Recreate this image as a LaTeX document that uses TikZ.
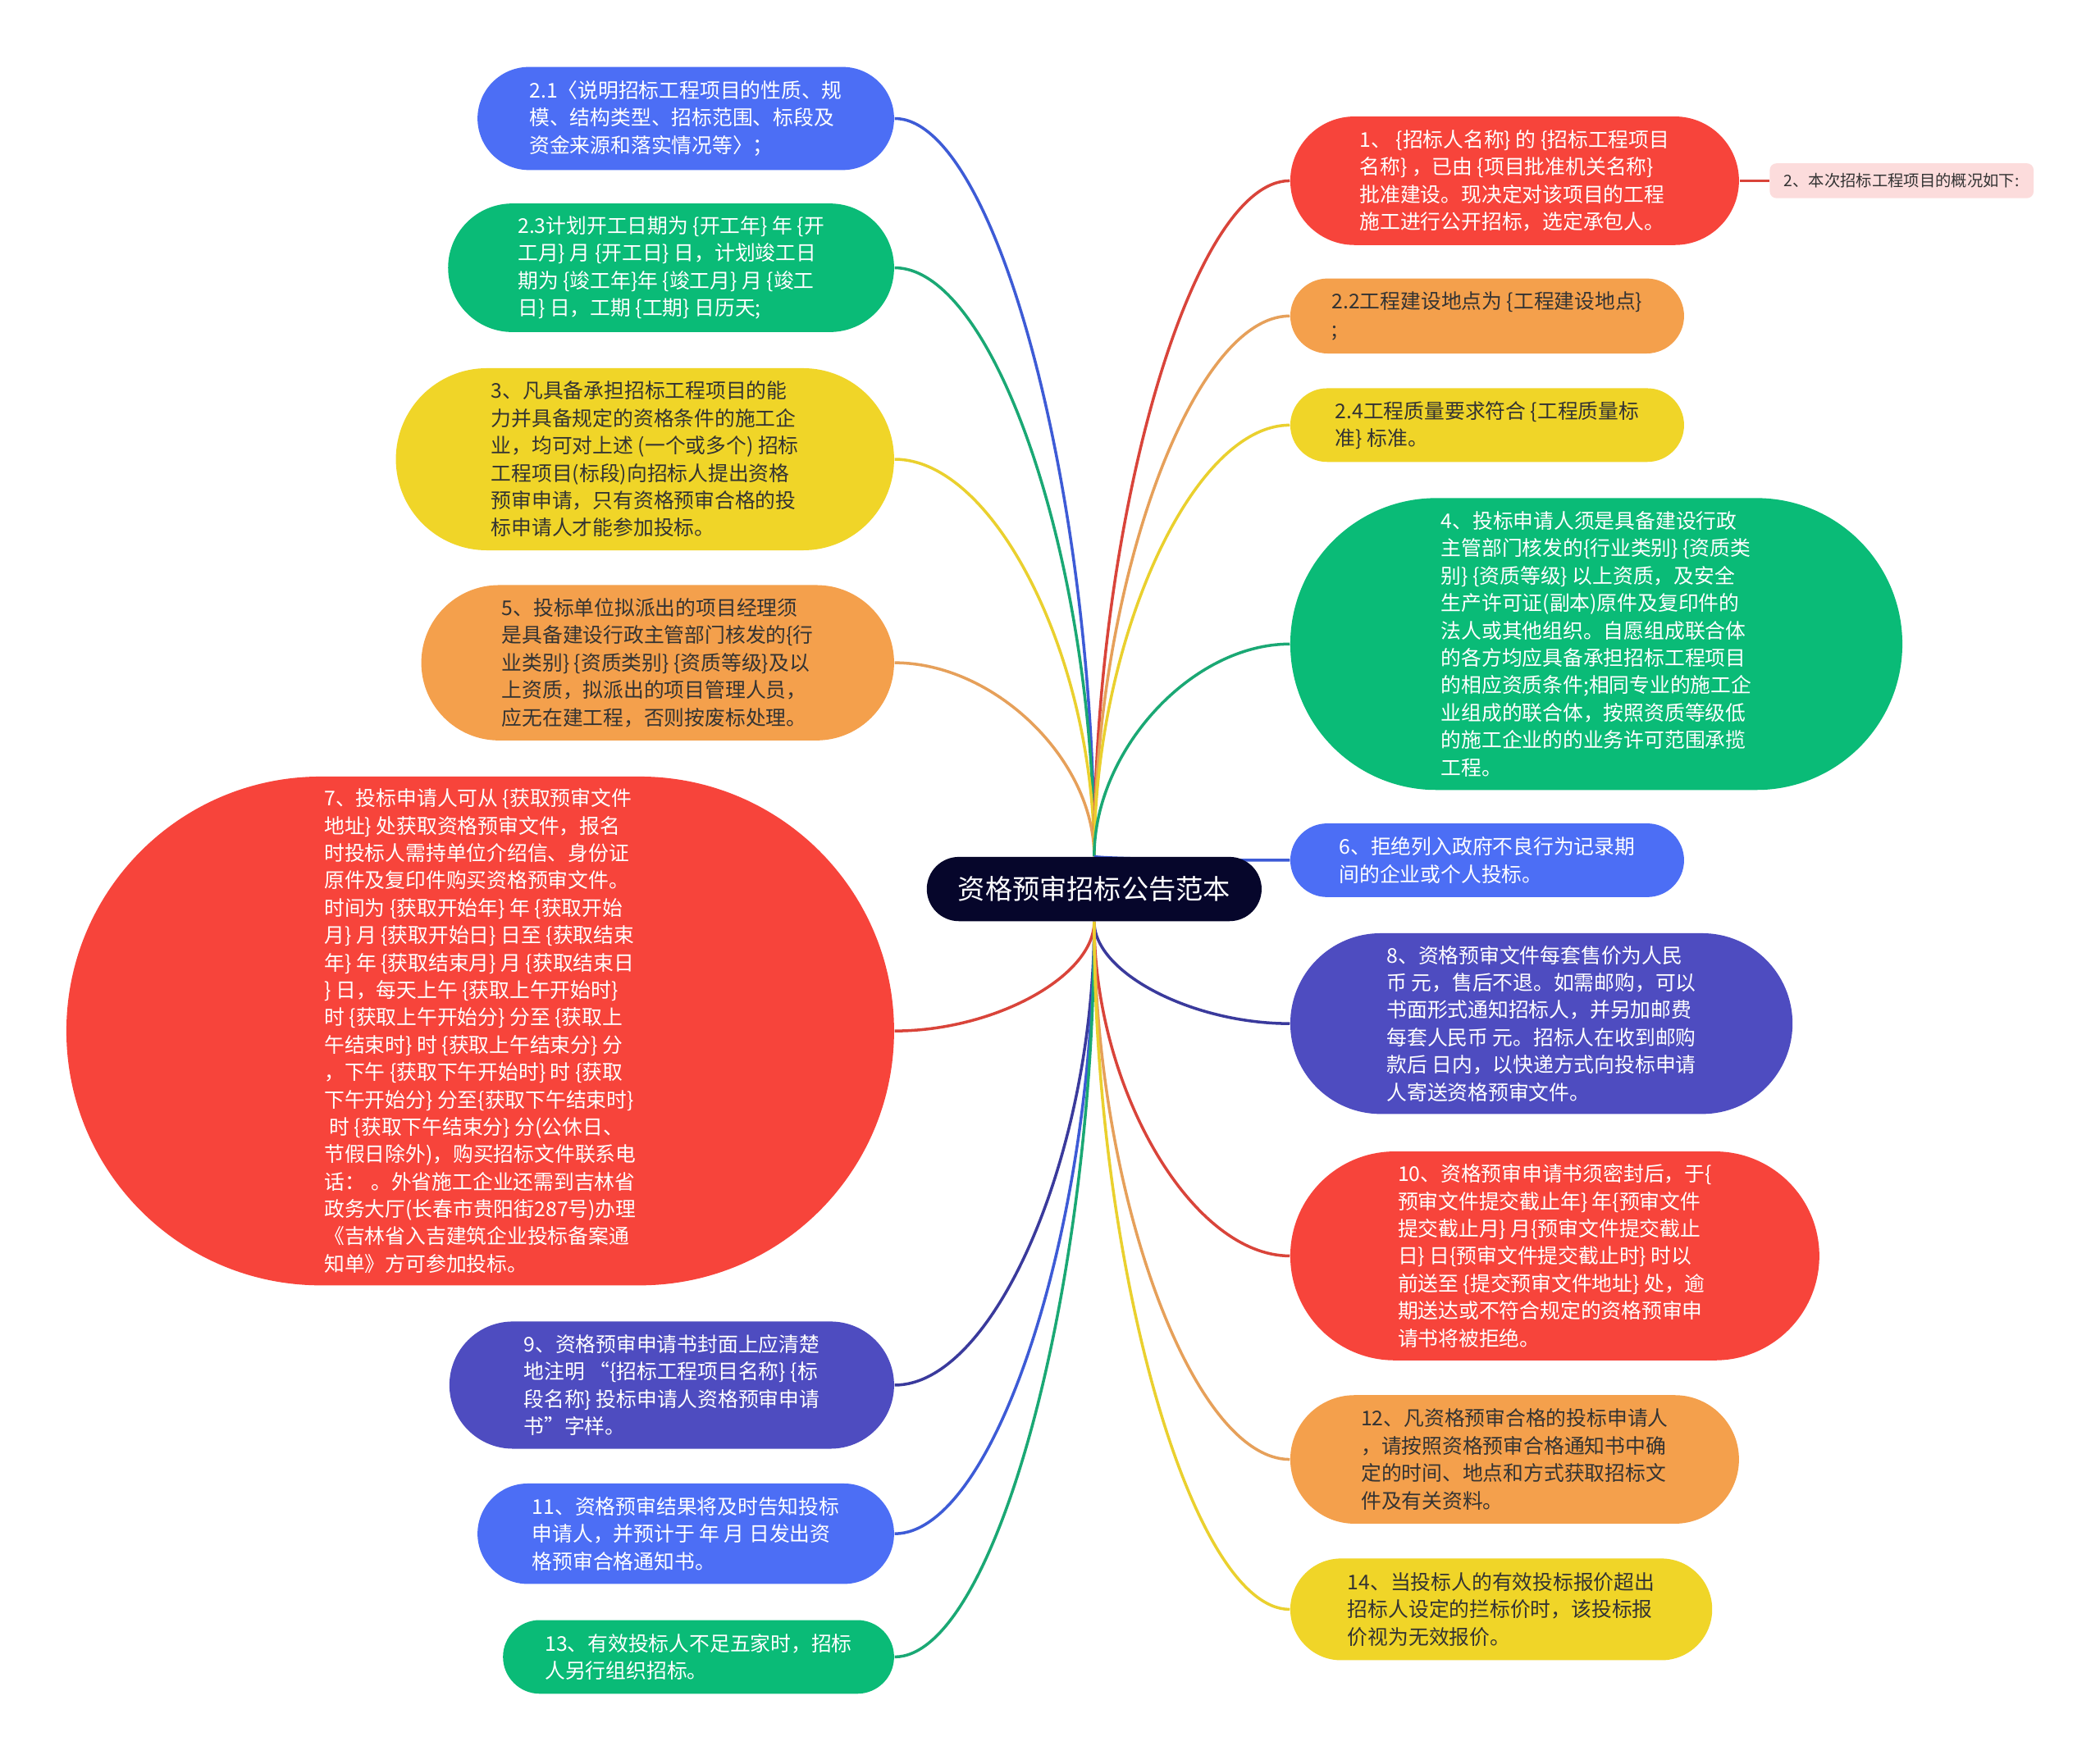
\documentclass[tikz,border=0pt]{standalone}
\usepackage{fontspec}
\newfontfamily\cjk{Noto Sans CJK SC}
\usetikzlibrary{calc,backgrounds}
\newlength\spx \setlength\spx{0.016327cm}
\definecolor{fblue}{HTML}{4C6EF5}
\definecolor{fgreen}{HTML}{0ABB77}
\definecolor{fyellow}{HTML}{F0D528}
\definecolor{forange}{HTML}{F4A04C}
\definecolor{fred}{HTML}{F7443B}
\definecolor{findigo}{HTML}{4E4CC0}
\definecolor{fnavy}{HTML}{06062B}
\definecolor{fpink}{HTML}{FCDCDC}
\definecolor{dtext}{HTML}{333333}
\definecolor{lblue}{HTML}{3D5BD6}
\definecolor{lgreen}{HTML}{1AA874}
\definecolor{lyellow}{HTML}{EAD02E}
\definecolor{lorange}{HTML}{E6A05A}
\definecolor{lred}{HTML}{D9443A}
\definecolor{lindigo}{HTML}{3A3A9C}
\tikzset{
  bub/.style n args={4}{rectangle, fill=#1, text=#2,
    minimum width=#3*\spx, minimum height=#4*\spx,
    rounded corners=#4*0.5*\spx, inner sep=0pt, align=left,
    font=\cjk\fontsize{7.05pt}{9.5pt}\selectfont},
  lft/.style={anchor=east},
  rgt/.style={anchor=west},
  conn/.style={draw=#1, line width=1pt}
}
\newcommand\mmcurve[3]{%
  \draw[conn=#1] (#2) .. controls ($(#2)!0.5!(#3|-#2)$) and ($(#3)!0.5!(#3|-#2)$) .. (#3);}
\begin{document}
\begin{tikzpicture}[x=0.016327cm, y=-0.016327cm]
\useasboundingbox (0,0) rectangle (1568,1317);

% central node
\node[rectangle, fill=fnavy, text=white, minimum width=250*\spx, minimum height=48*\spx,
  rounded corners=24*\spx, inner sep=0pt, font=\cjk\fontsize{9.45pt}{11pt}\selectfont]
  (c) at (817,664) {资格预审招标公告范本};

% left side
\node[bub={fblue}{white}{311}{77}, lft] (n21) at (668,88.5)
 {2.1〈说明招标工程项目的性质、规\\模、结构类型、招标范围、标段及\\资金来源和落实情况等〉；};
\node[bub={fgreen}{white}{333}{96}, lft] (n23) at (668,200)
 {2.3计划开工日期为 \{开工年\} 年 \{开\\工月\} 月 \{开工日\} 日，计划竣工日\\期为 \{竣工年\}年 \{竣工月\} 月 \{竣工\\日\} 日，工期 \{工期\} 日历天;};
\node[bub={fyellow}{dtext}{372}{136}, lft] (n3) at (668,343)
 {3、凡具备承担招标工程项目的能\\力并具备规定的资格条件的施工企\\业，均可对上述 (一个或多个) 招标\\工程项目(标段)向招标人提出资格\\预审申请，只有资格预审合格的投\\标申请人才能参加投标。};
\node[bub={forange}{dtext}{353}{116}, lft] (n5) at (668,495)
 {5、投标单位拟派出的项目经理须\\是具备建设行政主管部门核发的\{行\\业类别\} \{资质类别\} \{资质等级\}及以\\上资质，拟派出的项目管理人员，\\应无在建工程，否则按废标处理。};
\node[bub={fred}{white}{618}{380}, lft] (n7) at (668,770)
 {7、投标申请人可从 \{获取预审文件\\地址\} 处获取资格预审文件，报名\\时投标人需持单位介绍信、身份证\\原件及复印件购买资格预审文件。\\时间为 \{获取开始年\} 年 \{获取开始\\月\} 月 \{获取开始日\} 日至 \{获取结束\\年\} 年 \{获取结束月\} 月 \{获取结束日\\\} 日，每天上午 \{获取上午开始时\}\\时 \{获取上午开始分\} 分至 \{获取上\\午结束时\} 时 \{获取上午结束分\} 分\\，下午 \{获取下午开始时\} 时 \{获取\\下午开始分\} 分至\{获取下午结束时\}\\\hspace{0.25em}时 \{获取下午结束分\} 分(公休日、\\节假日除外)，购买招标文件联系电\\话：\hspace{0.3em}。外省施工企业还需到吉林省\\政务大厅(长春市贵阳街287号)办理\\《吉林省入吉建筑企业投标备案通\\知单》方可参加投标。};
\node[bub={findigo}{white}{332}{95}, lft] (n9) at (668,1034.5)
 {9、资格预审申请书封面上应清楚\\地注明 “\{招标工程项目名称\} \{标\\段名称\} 投标申请人资格预审申请\\书”字样。};
\node[bub={fblue}{white}{311}{75}, lft] (n11) at (668,1145.5)
 {11、资格预审结果将及时告知投标\\申请人，并预计于 年 月 日发出资\\格预审合格通知书。};
\node[bub={fgreen}{white}{292}{55}, lft] (n13) at (668,1237.5)
 {13、有效投标人不足五家时，招标\\人另行组织招标。};

% right side
\node[bub={fred}{white}{335}{96}, rgt] (n1) at (963,135)
 {1、 \{招标人名称\} 的 \{招标工程项目\\名称\} ，已由 \{项目批准机关名称\}\\批准建设。现决定对该项目的工程\\施工进行公开招标，选定承包人。};
\node[rectangle, fill=fpink, text=dtext, minimum width=197*\spx, minimum height=26*\spx,
  rounded corners=5*\spx, inner sep=0pt, font=\cjk\fontsize{5.5pt}{6.5pt}\selectfont, rgt]
  (n2s) at (1321,135) {2、本次招标工程项目的概况如下:};
\node[bub={forange}{dtext}{294}{56}, rgt] (n22) at (963,236)
 {2.2工程建设地点为 \{工程建设地点\}\\;};
\node[bub={fyellow}{dtext}{294}{55}, rgt] (n24) at (963,317.5)
 {2.4工程质量要求符合 \{工程质量标\\准\} 标准。};
\node[bub={fgreen}{white}{457}{218}, rgt] (n4) at (963,481)
 {4、投标申请人须是具备建设行政\\主管部门核发的\{行业类别\} \{资质类\\别\} \{资质等级\} 以上资质，及安全\\生产许可证(副本)原件及复印件的\\法人或其他组织。自愿组成联合体\\的各方均应具备承担招标工程项目\\的相应资质条件;相同专业的施工企\\业组成的联合体，按照资质等级低\\的施工企业的的业务许可范围承揽\\工程。};
\node[bub={fblue}{white}{294}{55}, rgt] (n6) at (963,642.5)
 {6、拒绝列入政府不良行为记录期\\间的企业或个人投标。};
\node[bub={findigo}{white}{375}{135}, rgt] (n8) at (963,764.5)
 {8、资格预审文件每套售价为人民\\币 元，售后不退。如需邮购，可以\\书面形式通知招标人，并另加邮费\\每套人民币 元。招标人在收到邮购\\款后 日内，以快递方式向投标申请\\人寄送资格预审文件。};
\node[bub={fred}{white}{395}{156}, rgt] (n10) at (963,938)
 {10、资格预审申请书须密封后，于\{\\预审文件提交截止年\} 年\{预审文件\\提交截止月\} 月\{预审文件提交截止\\日\} 日\{预审文件提交截止时\} 时以\\前送至 \{提交预审文件地址\} 处，逾\\期送达或不符合规定的资格预审申\\请书将被拒绝。};
\node[bub={forange}{dtext}{335}{96}, rgt] (n12) at (963,1090)
 {12、凡资格预审合格的投标申请人\\，请按照资格预审合格通知书中确\\定的时间、地点和方式获取招标文\\件及有关资料。};
\node[bub={fyellow}{dtext}{315}{76}, rgt] (n14) at (963,1202)
 {14、当投标人的有效投标报价超出\\招标人设定的拦标价时，该投标报\\价视为无效报价。};

% connectors (behind the nodes)
\begin{scope}[on background layer]
\fill[white] (0,0) rectangle (1568,1317);
\mmcurve{lblue}{n21.east}{c.north}
\mmcurve{lgreen}{n23.east}{c.north}
\mmcurve{lyellow}{n3.east}{c.north}
\mmcurve{lorange}{n5.east}{c.north}
\mmcurve{lred}{n7.east}{c.south}
\mmcurve{lindigo}{n9.east}{c.south}
\mmcurve{lblue}{n11.east}{c.south}
\mmcurve{lgreen}{n13.east}{c.south}
\mmcurve{lred}{n1.west}{c.north}
\mmcurve{lorange}{n22.west}{c.north}
\mmcurve{lyellow}{n24.west}{c.north}
\mmcurve{lgreen}{n4.west}{c.north}
\mmcurve{lblue}{n6.west}{c.north}
\mmcurve{lindigo}{n8.west}{c.south}
\mmcurve{lred}{n10.west}{c.south}
\mmcurve{lorange}{n12.west}{c.south}
\mmcurve{lyellow}{n14.west}{c.south}
\draw[conn=lred] (n1.east) -- (n2s.west);
\end{scope}
\end{tikzpicture}
\end{document}
